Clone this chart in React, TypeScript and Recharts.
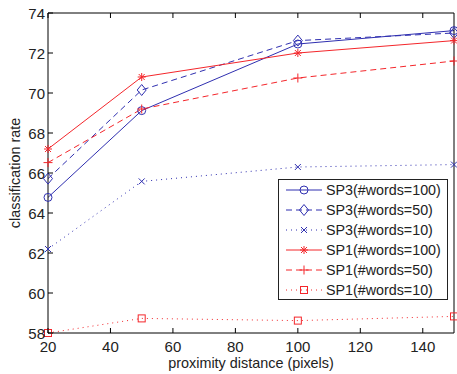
import React from 'react';
import { LineChart, Line, XAxis, YAxis } from "recharts";

const distances = [20, 50, 100, 150];
const sp3Words100 = [64.78, 69.12, 72.45, 73.12];
const sp3Words50 = [65.72, 70.15, 72.62, 73.0];
const sp3Words10 = [62.2, 65.58, 66.3, 66.42];
const sp1Words100 = [67.2, 70.8, 72.0, 72.62];
const sp1Words50 = [66.52, 69.2, 70.75, 71.6];
const sp1Words10 = [58.0, 58.73, 58.62, 58.83];

const xTicks = [20, 40, 60, 80, 100, 120, 140];
const yTicks = [58, 60, 62, 64, 66, 68, 70, 72, 74];

const BLUE = "#2f2fb0";
const RED = "#f4262b";
const FONT = '"Liberation Sans", Arial, Helvetica, sans-serif';

const data = distances.map((d, i) => ({
  d,
  sp3_100: sp3Words100[i],
  sp3_50: sp3Words50[i],
  sp3_10: sp3Words10[i],
  sp1_100: sp1Words100[i],
  sp1_50: sp1Words50[i],
  sp1_10: sp1Words10[i],
}));

type Shape = 'circle' | 'diamond' | 'x' | 'star' | 'plus' | 'square';

function Marker({ shape, cx, cy, color }: { shape: Shape; cx: number; cy: number; color: string }) {
  const p = { stroke: color, strokeWidth: 1, fill: 'none' };
  switch (shape) {
    case 'circle':
      return <circle cx={cx} cy={cy} r={4} {...p} />;
    case 'diamond':
      return <polygon points={`${cx},${cy - 5.5} ${cx + 4.5},${cy} ${cx},${cy + 5.5} ${cx - 4.5},${cy}`} {...p} />;
    case 'x':
      return (
        <g {...p}>
          <line x1={cx - 3} y1={cy - 3} x2={cx + 3} y2={cy + 3} />
          <line x1={cx - 3} y1={cy + 3} x2={cx + 3} y2={cy - 3} />
        </g>
      );
    case 'star':
      return (
        <g {...p}>
          <line x1={cx - 4} y1={cy} x2={cx + 4} y2={cy} />
          <line x1={cx} y1={cy - 4} x2={cx} y2={cy + 4} />
          <line x1={cx - 3} y1={cy - 3} x2={cx + 3} y2={cy + 3} />
          <line x1={cx - 3} y1={cy + 3} x2={cx + 3} y2={cy - 3} />
        </g>
      );
    case 'plus':
      return (
        <g {...p}>
          <line x1={cx - 4.5} y1={cy} x2={cx + 4.5} y2={cy} />
          <line x1={cx} y1={cy - 4.5} x2={cx} y2={cy + 4.5} />
        </g>
      );
    default:
      return <rect x={cx - 3.5} y={cy - 3.5} width={7} height={7} {...p} />;
  }
}

const seriesList: { key: string; name: string; color: string; dash?: string; shape: Shape }[] = [
  { key: 'sp3_100', name: 'SP3(#words=100)', color: BLUE, shape: 'circle' },
  { key: 'sp3_50', name: 'SP3(#words=50)', color: BLUE, dash: '6 4', shape: 'diamond' },
  { key: 'sp3_10', name: 'SP3(#words=10)', color: BLUE, dash: '1 4', shape: 'x' },
  { key: 'sp1_100', name: 'SP1(#words=100)', color: RED, shape: 'star' },
  { key: 'sp1_50', name: 'SP1(#words=50)', color: RED, dash: '6 4', shape: 'plus' },
  { key: 'sp1_10', name: 'SP1(#words=10)', color: RED, dash: '1 4', shape: 'square' },
];

const BottomTick = (props: any) => {
  const { x, y, payload } = props;
  return (
    <g>
      <line x1={x} y1={y} x2={x} y2={y - 5} stroke="#000" />
      <text x={x} y={y + 19} textAnchor="middle" fontSize={15} fill="#222" fontFamily={FONT}>{payload.value}</text>
    </g>
  );
};

const TopTick = (props: any) => {
  const { x, y } = props;
  return <line x1={x} y1={y} x2={x} y2={y + 5} stroke="#000" />;
};

const LeftTick = (props: any) => {
  const { x, y, payload } = props;
  return (
    <g>
      <line x1={x} y1={y} x2={x + 5} y2={y} stroke="#000" />
      <text x={x - 3} y={y + 5.5} textAnchor="end" fontSize={15} fill="#222" fontFamily={FONT}>{payload.value}</text>
    </g>
  );
};

const RightTick = (props: any) => {
  const { x, y } = props;
  return <line x1={x} y1={y} x2={x - 5} y2={y} stroke="#000" />;
};

const LegendBox = () => (
  <div style={{ position: 'absolute', left: 278, top: 179, width: 170, height: 121, border: '1.5px solid #222', background: '#fff', boxSizing: 'border-box' }}>
    {seriesList.map((s) => (
      <div key={s.key} style={{ height: 20, display: 'flex', alignItems: 'center', fontFamily: FONT, fontSize: 14.3, color: '#222' }}>
        <svg width={47} height={20} style={{ flex: 'none' }}>
          <line x1={7} y1={10} x2={43} y2={10} stroke={s.color} strokeDasharray={s.dash} />
          <Marker shape={s.shape} cx={25} cy={10} color={s.color} />
        </svg>
        <span>{s.name}</span>
      </div>
    ))}
  </div>
);

export default function App() {
  return (
    <div style={{ position: 'absolute', left: 0, top: 0, width: 457, height: 374, background: '#fff' }}>
      <LineChart width={457} height={374} data={data} margin={{ top: 12, right: 2, bottom: 11, left: 8 }}>
        <XAxis
          dataKey="d"
          type="number"
          domain={[20, 150]}
          ticks={xTicks}
          height={30}
          tickSize={0}
          tickMargin={0}
          tick={BottomTick}
          tickLine={false}
          axisLine={{ stroke: '#000' }}
          interval={0}
        />
        <XAxis
          xAxisId="top"
          orientation="top"
          dataKey="d"
          type="number"
          domain={[20, 150]}
          ticks={xTicks}
          height={1}
          tickSize={0}
          tickMargin={0}
          tick={TopTick}
          tickLine={false}
          axisLine={{ stroke: '#000' }}
          interval={0}
        />
        <YAxis
          domain={[58, 74]}
          ticks={yTicks}
          width={40}
          tickSize={0}
          tickMargin={0}
          tick={LeftTick}
          tickLine={false}
          axisLine={{ stroke: '#000' }}
          interval={0}
        />
        <YAxis
          yAxisId="right"
          orientation="right"
          domain={[58, 74]}
          ticks={yTicks}
          width={1}
          tickSize={0}
          tickMargin={0}
          tick={RightTick}
          tickLine={false}
          axisLine={{ stroke: '#000' }}
          interval={0}
        />
        {seriesList.map((s) => (
          <Line
            key={s.key}
            dataKey={s.key}
            name={s.name}
            type="linear"
            stroke={s.color}
            strokeWidth={1}
            strokeDasharray={s.dash}
            isAnimationActive={false}
            dot={(p: any) => <Marker key={`${s.key}-${p.index}`} shape={s.shape} cx={p.cx} cy={p.cy} color={s.color} />}
            activeDot={false}
          />
        ))}
        <text x={20} y={173} transform="rotate(-90 20 173)" textAnchor="middle" fontSize={14.4} fill="#222" fontFamily={FONT}>
          classification rate
        </text>
        <text x={251} y={368} textAnchor="middle" fontSize={14.4} fill="#222" fontFamily={FONT}>
          proximity distance (pixels)
        </text>
      </LineChart>
      <LegendBox />
    </div>
  );
}
